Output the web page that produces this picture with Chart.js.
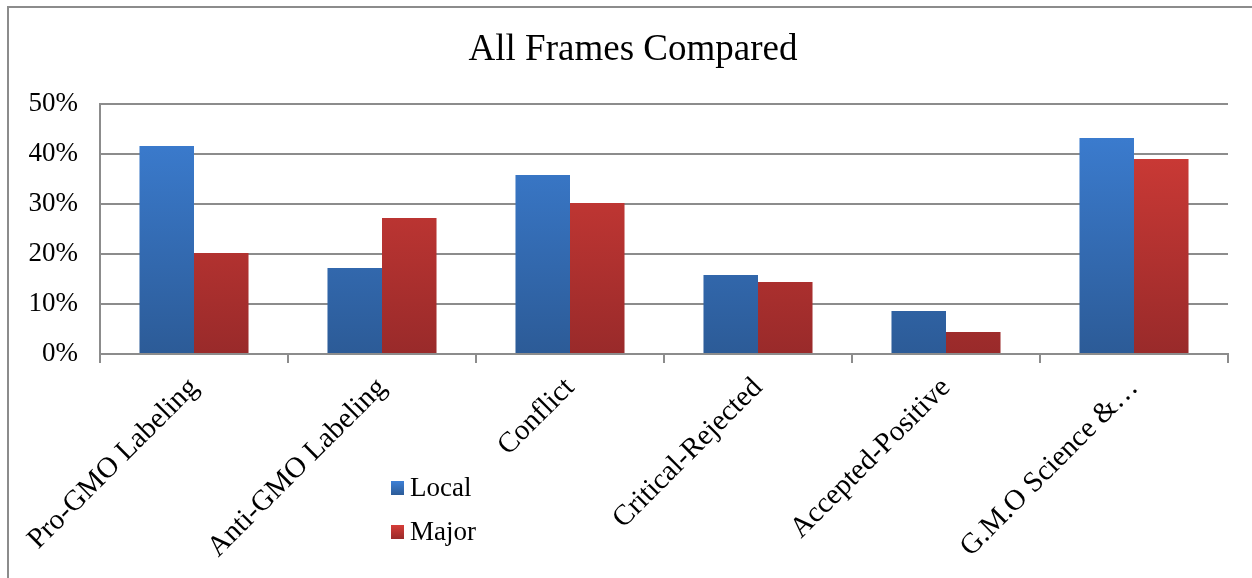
<!DOCTYPE html>
<html>
<head>
<meta charset="utf-8">
<script src="https://cdn.jsdelivr.net/npm/chart.js@4/dist/chart.umd.min.js"></script>
<style>
    body { margin: 0; background: #fff; }
    #wrap { position: relative; width: 1252px; height: 578px; }
    #frame {
        position: absolute; left: 7px; top: 6px; right: 0; bottom: 0;
        border-left: 2px solid #8c8c8c; border-top: 2px solid #8c8c8c;
        pointer-events: none;
    }
</style>
</head>
<body>
<div id="wrap">
    <canvas id="barChart" width="1252" height="578"></canvas>
    <div id="frame"></div>
</div>
<script>
const categories = ['Pro-GMO Labeling', 'Anti-GMO Labeling', 'Conflict', 'Critical-Rejected', 'Accepted-Positive', 'G.M.O Science &\u2026'];
const localValues = [41.6, 17.2, 35.8, 15.8, 8.6, 43.2];
const majorValues = [20.2, 27.2, 30.2, 14.4, 4.4, 39.0];
const yTicks = [0, 10, 20, 30, 40, 50];
const chartTitle = 'All Frames Compared';

const FONT = '"Liberation Serif", "Times New Roman", serif';
const GRID = '#8c8c8c';

function barGradient(chart, top, bottom) {
    const area = chart.chartArea;
    if (!area) return bottom;
    const g = chart.ctx.createLinearGradient(0, area.top, 0, area.bottom);
    g.addColorStop(0, top);
    g.addColorStop(1, bottom);
    return g;
}

const blue = ctx => barGradient(ctx.chart, '#3d80d6', '#2c5b97');
const red = ctx => barGradient(ctx.chart, '#d63d38', '#992a2a');

// title + legend drawn by hand: the original centres the title a bit off
// the plot and puts the legend stacked inside the label area
const overlayPlugin = {
    id: 'overlay',
    afterDraw(chart) {
        const c = chart.ctx;
        c.save();
        c.fillStyle = '#000';
        c.font = '37px ' + FONT;
        c.textAlign = 'center';
        c.textBaseline = 'middle';
        c.fillText(chartTitle, 633, 50);

        const fills = [['#3d80d6', '#2c5b97'], ['#d63d38', '#992a2a']];
        c.font = '27px ' + FONT;
        c.textAlign = 'left';
        chart.data.datasets.forEach((ds, i) => {
            const y = 488 + i * 44;
            const g = c.createLinearGradient(0, y - 7, 0, y + 7);
            g.addColorStop(0, fills[i][0]);
            g.addColorStop(1, fills[i][1]);
            c.fillStyle = g;
            c.fillRect(391, y - 7, 13, 14);
            c.fillStyle = '#000';
            c.fillText(ds.label, 410, y + 1);
        });
        c.restore();
    }
};

new Chart(document.getElementById('barChart').getContext('2d'), {
    type: 'bar',
    data: {
        labels: categories,
        datasets: [
            { label: 'Local', data: localValues, backgroundColor: blue },
            { label: 'Major', data: majorValues, backgroundColor: red }
        ]
    },
    options: {
        responsive: false,
        animation: false,
        layout: { padding: { left: 0, right: 24, top: 104, bottom: 0 } },
        datasets: { bar: { categoryPercentage: 0.58, barPercentage: 1.0 } },
        plugins: {
            legend: { display: false },
            tooltip: { enabled: false },
            title: { display: false }
        },
        scales: {
            x: {
                grid: { drawOnChartArea: false, color: GRID, lineWidth: 2, tickLength: 9, offset: true },
                border: { color: GRID, width: 2 },
                ticks: {
                    color: '#000',
                    font: { family: FONT, size: 29 },
                    maxRotation: 45, minRotation: 45,
                    padding: 8,
                    autoSkip: false
                },
                afterFit: s => { s.height = 224; }
            },
            y: {
                min: 0, max: 50,
                afterBuildTicks: s => { s.ticks = yTicks.map(v => ({ value: v })); },
                grid: { color: GRID, lineWidth: 2, drawTicks: false },
                border: { color: GRID, width: 2 },
                ticks: {
                    color: '#000',
                    font: { family: FONT, size: 27 },
                    padding: 22,
                    callback: v => v + '%'
                },
                afterFit: s => { s.width = 100; }
            }
        }
    },
    plugins: [overlayPlugin]
});
</script>
</body>
</html>
